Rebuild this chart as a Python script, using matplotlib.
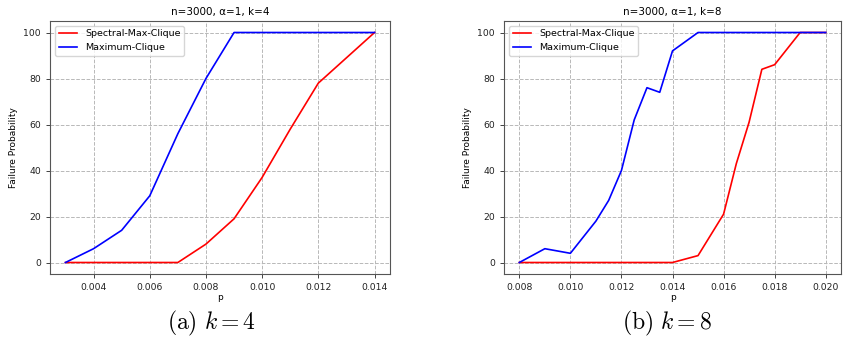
import matplotlib
matplotlib.use("Agg")
import matplotlib.pyplot as plt

# Panel (a): k=4
p_a = [0.003, 0.004, 0.005, 0.006, 0.007, 0.008, 0.009, 0.010, 0.011, 0.012, 0.014]
spectral_a = [0, 0, 0, 0, 0, 8, 19, 37, 58, 78, 100]
p_a_mc = [0.003, 0.004, 0.005, 0.006, 0.007, 0.008, 0.009, 0.010, 0.012, 0.014]
maxclique_a = [0, 6, 14, 29, 56, 80, 100, 100, 100, 100]
xticks_a = [0.004, 0.006, 0.008, 0.010, 0.012, 0.014]

# Panel (b): k=8
p_b_sp = [0.008, 0.009, 0.010, 0.011, 0.012, 0.013, 0.014, 0.015, 0.016, 0.0165, 0.017, 0.0175, 0.018, 0.019, 0.020]
spectral_b = [0, 0, 0, 0, 0, 0, 0, 3, 21, 43, 61, 84, 86, 100, 100]
p_b_mc = [0.008, 0.009, 0.010, 0.011, 0.0115, 0.012, 0.0125, 0.013, 0.0135, 0.014, 0.015, 0.016, 0.017, 0.018, 0.019, 0.020]
maxclique_b = [0, 6, 4, 18, 27, 40, 62, 76, 74, 92, 100, 100, 100, 100, 100, 100]
xticks_b = [0.008, 0.010, 0.012, 0.014, 0.016, 0.018, 0.020]

yticks = [0, 20, 40, 60, 80, 100]
titles = ["n=3000, α=1, k=4", "n=3000, α=1, k=8"]
captions = [r"$\mathrm{(a)}\ k=4$", r"$\mathrm{(b)}\ k=8$"]

plt.rcParams['mathtext.fontset'] = 'cm'
fig = plt.figure(figsize=(8.46, 3.52), dpi=100)
W, H = 846, 352
rects = [(50, 21, 390, 274), (504, 21, 841, 274)]
data = [(p_a, spectral_a, p_a_mc, maxclique_a, xticks_a),
        (p_b_sp, spectral_b, p_b_mc, maxclique_b, xticks_b)]
cap_x = [212, 667]

for i, (r, d) in enumerate(zip(rects, data)):
    x0, y0, x1, y1 = r
    ax = fig.add_axes([x0 / W, 1 - y1 / H, (x1 - x0) / W, (y1 - y0) / H])
    ps, sp, pm, mc, xt = d
    ax.plot(ps, sp, color='red', lw=1.2, label='Spectral-Max-Clique')
    ax.plot(pm, mc, color='blue', lw=1.2, label='Maximum-Clique')
    ax.set_xticks(xt)
    ax.set_xticklabels([f"{v:.3f}" for v in xt])
    ax.set_yticks(yticks)
    ax.set_ylim(-5, 105)
    ax.grid(True, linestyle='--', color='#b8b8b8', lw=0.7)
    ax.tick_params(labelsize=6.7, length=3, width=0.6, colors='#222222')
    for s in ax.spines.values():
        s.set_linewidth(0.8)
        s.set_color('#555555')
    ax.set_title(titles[i], fontsize=7.5, pad=4)
    ax.set_xlabel('p', fontsize=6.5, labelpad=1)
    ax.set_ylabel('Failure Probability', fontsize=6.5)
    ax.legend(loc='upper left', fontsize=6.8, handlelength=2, framealpha=0.8)
    fig.text(cap_x[i] / W, 1 - 323 / H, captions[i], ha='center', va='center',
             fontsize=17)

fig.savefig('out.png', dpi=100)
